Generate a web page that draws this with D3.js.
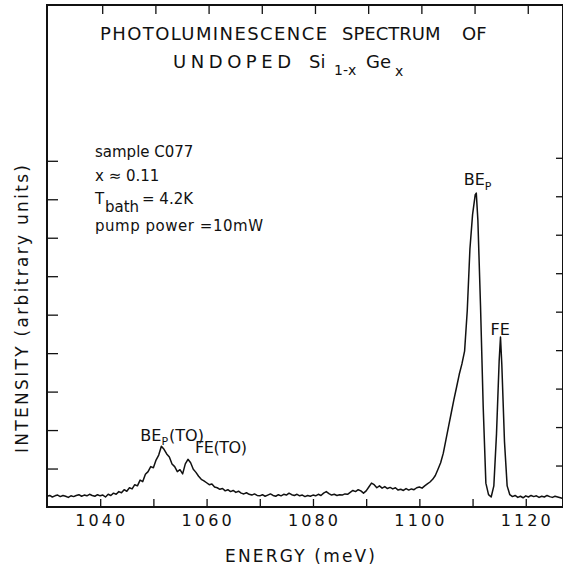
<!DOCTYPE html>
<html>
<head>
<meta charset="utf-8">
<script src="https://cdn.jsdelivr.net/npm/d3@7"></script>
<style>
  body { margin: 0; background: #fff; }
  svg { display: block; }
  text { font-family: "DejaVu Sans", sans-serif; fill: #111; }
</style>
</head>
<body>
<div id="vis"></div>
<script>
// spectrum (energy in meV, intensity in arbitrary units)
var energy = [
  1030.0, 1030.5, 1031.0, 1031.5, 1032.0, 1032.5, 1033.0, 1033.5, 1034.0, 1034.5,
  1035.0, 1035.5, 1036.0, 1036.5, 1037.0, 1037.5, 1038.0, 1038.5, 1039.0, 1039.5,
  1040.0, 1040.5, 1041.0, 1041.5, 1042.0, 1042.5, 1043.0, 1043.5, 1044.0, 1044.5,
  1045.0, 1045.5, 1046.0, 1046.5, 1047.0, 1047.5, 1048.0, 1048.5, 1049.0, 1049.5,
  1050.0, 1050.5, 1051.0, 1051.5, 1052.0, 1052.5, 1053.0, 1053.5, 1054.0, 1054.5,
  1055.0, 1055.5, 1056.0, 1056.5, 1057.0, 1057.5, 1058.0, 1058.5, 1059.0, 1059.5,
  1060.0, 1060.5, 1061.0, 1061.5, 1062.0, 1062.5, 1063.0, 1063.5, 1064.0, 1064.5,
  1065.0, 1065.5, 1066.0, 1066.5, 1067.0, 1067.5, 1068.0, 1068.5, 1069.0, 1069.5,
  1070.0, 1070.5, 1071.0, 1071.5, 1072.0, 1072.5, 1073.0, 1073.5, 1074.0, 1074.5,
  1075.0, 1075.5, 1076.0, 1076.5, 1077.0, 1077.5, 1078.0, 1078.5, 1079.0, 1079.5,
  1080.0, 1080.5, 1081.0, 1081.5, 1082.0, 1082.5, 1083.0, 1083.5, 1084.0, 1084.5,
  1085.0, 1085.5, 1086.0, 1086.5, 1087.0, 1087.5, 1088.0, 1088.5, 1089.0, 1089.5,
  1090.0, 1090.5, 1091.0, 1091.5, 1092.0, 1092.5, 1093.0, 1093.5, 1094.0, 1094.5,
  1095.0, 1095.5, 1096.0, 1096.5, 1097.0, 1097.5, 1098.0, 1098.5, 1099.0, 1099.5,
  1100.0, 1100.5, 1101.0, 1101.5, 1102.0, 1102.5, 1103.0, 1103.5, 1104.0, 1104.5,
  1105.0, 1105.5, 1106.0, 1106.5, 1107.0, 1107.5, 1108.0, 1108.5, 1109.0, 1109.5,
  1110.0, 1110.5, 1110.7, 1111.0, 1111.5, 1112.0, 1112.5, 1113.0, 1113.5, 1114.0,
  1114.5, 1115.0, 1115.25, 1115.5, 1116.0, 1116.5, 1117.0, 1117.5, 1118.0, 1118.5,
  1119.0, 1119.5, 1120.0, 1120.5, 1121.0, 1121.5, 1122.0, 1122.5, 1123.0, 1123.5,
  1124.0, 1124.5, 1125.0, 1125.5, 1126.0, 1126.5, 1127.0
];
var intensity = [
  0.28, 0.30, 0.26, 0.29, 0.31, 0.27, 0.30, 0.28, 0.25, 0.29,
  0.27, 0.30, 0.32, 0.28, 0.31, 0.29, 0.33, 0.30, 0.28, 0.32,
  0.29, 0.31, 0.26, 0.33, 0.30, 0.36, 0.33, 0.40, 0.37, 0.45,
  0.41, 0.50, 0.47, 0.58, 0.55, 0.70, 0.66, 0.85, 0.92, 1.05,
  1.02, 1.22, 1.35, 1.58, 1.50, 1.38, 1.30, 1.12, 1.05, 0.92,
  0.97, 0.86, 1.12, 1.24, 1.15, 0.98, 0.90, 0.80, 0.72, 0.68,
  0.63, 0.58, 0.60, 0.52, 0.50, 0.46, 0.48, 0.42, 0.45, 0.40,
  0.43, 0.38, 0.41, 0.36, 0.34, 0.37, 0.33, 0.31, 0.34, 0.30,
  0.29, 0.32, 0.28, 0.31, 0.34, 0.30, 0.28, 0.32, 0.29, 0.33,
  0.31, 0.36, 0.32, 0.30, 0.33, 0.29, 0.31, 0.27, 0.30, 0.28,
  0.31, 0.29, 0.33, 0.30, 0.36, 0.40, 0.35, 0.31, 0.33, 0.30,
  0.32, 0.31, 0.34, 0.33, 0.38, 0.43, 0.40, 0.45, 0.42, 0.36,
  0.42, 0.52, 0.62, 0.58, 0.50, 0.55, 0.49, 0.53, 0.48, 0.51,
  0.47, 0.50, 0.44, 0.46, 0.43, 0.48, 0.44, 0.47, 0.45, 0.50,
  0.52, 0.49, 0.55, 0.60, 0.65, 0.72, 0.82, 0.98, 1.15, 1.40,
  1.75, 2.10, 2.45, 2.80, 3.12, 3.45, 3.72, 4.05, 5.10, 6.70,
  7.60, 8.12, 8.16, 7.45, 5.20, 2.60, 0.62, 0.32, 0.26, 0.55,
  1.90, 3.80, 4.42, 3.70, 1.70, 0.55, 0.32, 0.27, 0.30, 0.25,
  0.28, 0.24, 0.29, 0.26, 0.30, 0.27, 0.29, 0.25, 0.28, 0.26,
  0.30, 0.27, 0.25, 0.28, 0.26, 0.24, 0.22
];

var xTicks = [1040, 1060, 1080, 1100, 1120];
var xMinorTicks = [1040, 1050, 1060, 1070, 1080, 1090, 1100, 1110, 1120];
var yTicks = [1, 2, 3, 4, 5, 6, 7, 8, 9];

var width = 563, height = 571;

var svg = d3.select("#vis")
  .append("svg")
  .attr("width", width)
  .attr("height", height);

var x = d3.scaleLinear().domain([1030, 1127]).range([47, 563]),
    y = d3.scaleLinear().domain([0, 13.05]).range([507, 5]);

// frame
svg.append("rect")
  .attr("x", x(1030))
  .attr("y", y(13.05))
  .attr("width", x(1127) - x(1030))
  .attr("height", y(0) - y(13.05))
  .attr("fill", "none")
  .attr("stroke", "#111")
  .attr("stroke-width", 2);

function tickStyle(g) {
  g.select(".domain").remove();
  g.selectAll("line").attr("stroke", "#111").attr("stroke-width", 1.3);
}

// bottom ticks (inside) + labels
svg.append("g")
  .attr("transform", "translate(0," + y(0) + ")")
  .call(d3.axisTop(x).tickValues(xMinorTicks).tickSize(8).tickFormat(""))
  .call(tickStyle);

svg.append("g")
  .selectAll("text")
  .data(xTicks)
  .enter().append("text")
  .attr("x", function(d) { return x(d); })
  .attr("y", 526)
  .attr("text-anchor", "middle")
  .attr("font-size", 16)
  .attr("textLength", 50)
  .attr("lengthAdjust", "spacing")
  .text(function(d) { return d; });

// top ticks
svg.append("g")
  .attr("transform", "translate(2," + y(13.05) + ")")
  .call(d3.axisBottom(x).tickValues(xMinorTicks).tickSize(9).tickFormat(""))
  .call(tickStyle);

// left ticks
svg.append("g")
  .attr("transform", "translate(" + x(1030) + ",0)")
  .call(d3.axisRight(y).tickValues(yTicks).tickSize(11).tickFormat(""))
  .call(tickStyle);

// right ticks
svg.append("g")
  .attr("transform", "translate(" + x(1127) + ",-3)")
  .call(d3.axisLeft(y).tickValues(yTicks).tickSize(7).tickFormat(""))
  .call(tickStyle);

// spectrum
var points = energy.map(function(e, i) { return [e, intensity[i]]; });
svg.append("path")
  .datum(points)
  .attr("fill", "none")
  .attr("stroke", "#111")
  .attr("stroke-width", 1.5)
  .attr("stroke-linejoin", "round")
  .attr("d", d3.line().x(function(d) { return x(d[0]); }).y(function(d) { return y(d[1]); }));

// title, word by word so the hand lettering lines up
var title = svg.append("g").attr("font-size", 18);
function word(g, str, x0, y0, len, size) {
  var t = g.append("text").attr("x", x0).attr("y", y0).text(str);
  if (len) t.attr("textLength", len).attr("lengthAdjust", "spacing");
  if (size) t.attr("font-size", size);
  return t;
}
word(title, "PHOTOLUMINESCENCE", 100, 40, 227);
word(title, "SPECTRUM", 342, 40);
word(title, "OF", 462, 40);
word(title, "UNDOPED", 173, 68, 118);
word(title, "Si", 309, 68);
word(title, "1-x", 334, 75, null, 14);
word(title, "Ge", 366, 68);
word(title, "x", 395, 76, null, 14);

// sample notes
var notes = svg.append("g").attr("font-size", 15);
word(notes, "sample  C077", 95, 157);
word(notes, "x \u2248 0.11", 95, 181);
word(notes, "T", 95, 204);
word(notes, "bath", 105, 212);
word(notes, "= 4.2K", 142, 204);
word(notes, "pump  power  =10mW", 95, 231, 168);

// peak labels
var pk = svg.append("g").attr("font-size", 16);
var l1 = pk.append("text").attr("x", x(1110.6) - 12).attr("y", y(8.16) - 8);
l1.append("tspan").text("BE");
l1.append("tspan").attr("dy", 5).attr("font-size", 11).text("P");
var l2 = pk.append("text").attr("x", x(1115.25) - 10).attr("y", y(4.42) - 2);
l2.append("tspan").text("FE");
var l3 = pk.append("text").attr("x", x(1051.5) - 21).attr("y", y(1.58) - 5);
l3.append("tspan").text("BE");
l3.append("tspan").attr("dy", 4).attr("font-size", 11).text("P");
l3.append("tspan").attr("dx", 1).attr("dy", -4).text("(TO)");
pk.append("text").attr("x", x(1056.5) + 7).attr("y", y(1.24) - 6).attr("textLength", 52).attr("lengthAdjust", "spacing").text("FE(TO)");

// axis titles
svg.append("text")
  .attr("x", 300).attr("y", 562)
  .attr("text-anchor", "middle")
  .attr("font-size", 17)
  .attr("textLength", 150).attr("lengthAdjust", "spacing")
  .text("ENERGY  (meV)");

svg.append("text")
  .attr("transform", "translate(28,309) rotate(-90)")
  .attr("text-anchor", "middle")
  .attr("font-size", 17)
  .attr("textLength", 288).attr("lengthAdjust", "spacing")
  .text("INTENSITY  (arbitrary  units)");
</script>
</body>
</html>
